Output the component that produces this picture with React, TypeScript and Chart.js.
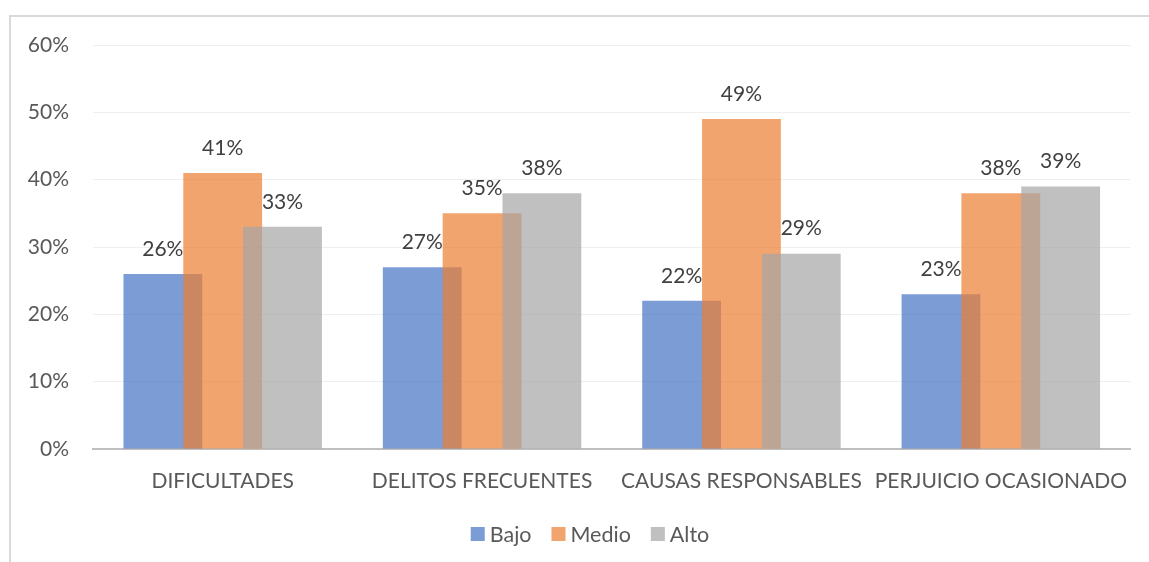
import React, { useEffect, useRef } from "react";
import { Chart, registerables } from "chart.js";

Chart.register(...registerables);

const categories = ["DIFICULTADES", "DELITOS FRECUENTES", "CAUSAS RESPONSABLES", "PERJUICIO OCASIONADO"];
const seriesNames = ["Bajo", "Medio", "Alto"];
const bajo = [26, 27, 22, 23];
const medio = [41, 35, 49, 38];
const alto = [33, 38, 29, 39];
const seriesColors = ["rgba(68,114,196,0.7)", "rgba(237,125,49,0.7)", "rgba(165,165,165,0.7)"];

const FONT = "Lato, 'Open Sans', sans-serif";
const LEGEND_CENTER_X = 590;
const LEGEND_CENTER_Y = 534;

const framePlugin = {
  id: "frame",
  beforeDraw(chart: any) {
    const ctx = chart.ctx;
    ctx.save();
    ctx.fillStyle = "#ffffff";
    ctx.fillRect(0, 0, chart.width, chart.height);
    ctx.fillStyle = "#D9D9D9";
    ctx.fillRect(9, 15, chart.width - 9, 2);
    ctx.fillRect(9, 15, 2, chart.height - 15);
    ctx.restore();
  },
};

const orderPlugin = {
  id: "drawOrder",
  beforeDatasetsDraw(chart: any) {
    const metas = chart.getSortedVisibleDatasetMetas();
    for (const m of metas) m.controller.draw();
    return false;
  },
};

const labelPlugin = {
  id: "valueLabels",
  afterDraw(chart: any) {
    const ctx = chart.ctx;
    ctx.save();
    ctx.font = `21px ${FONT}`;
    ctx.fillStyle = "#404040";
    ctx.textAlign = "center";
    ctx.textBaseline = "middle";
    chart.data.datasets.forEach((ds: any, di: number) => {
      const meta = chart.getDatasetMeta(di);
      meta.data.forEach((el: any, i: number) => {
        ctx.fillText(`${ds.data[i]}%`, el.x, el.y - 25);
      });
    });
    ctx.restore();
  },
};

const legendPlugin = {
  id: "customLegend",
  afterDraw(chart: any) {
    const ctx = chart.ctx;
    ctx.save();
    ctx.font = `21.5px ${FONT}`;
    ctx.textBaseline = "middle";
    ctx.textAlign = "left";
    const box = 14;
    const gap = 5;
    const itemGap = 20;
    const items = chart.data.datasets.map((ds: any) => ({
      label: ds.label,
      color: ds.backgroundColor,
      w: box + gap + ctx.measureText(ds.label).width,
    }));
    const total = items.reduce((s: number, it: any) => s + it.w, 0) + itemGap * (items.length - 1);
    let x = LEGEND_CENTER_X - total / 2;
    for (const it of items) {
      ctx.fillStyle = it.color;
      ctx.fillRect(x, LEGEND_CENTER_Y - box / 2, box, box);
      ctx.fillStyle = "#595959";
      ctx.fillText(it.label, x + box + gap, LEGEND_CENTER_Y + 1);
      x += it.w + itemGap;
    }
    ctx.restore();
  },
};

export default function App() {
  const ref = useRef<HTMLCanvasElement>(null);
  useEffect(() => {
    if (!ref.current) return;
    const chart = new Chart(ref.current, {
      type: "bar",
      data: {
        labels: categories,
        datasets: [bajo, medio, alto].map((d, i) => ({
          label: seriesNames[i],
          data: d,
          backgroundColor: seriesColors[i],
          borderWidth: 0,
          categoryPercentage: 0.692,
          barPercentage: 1.317,
        })),
      },
      options: {
        animation: false,
        responsive: false,
        layout: { padding: { left: 0, right: 16, top: 45, bottom: 0 } },
        plugins: {
          tooltip: { enabled: false },
          legend: { display: false },
        },
        scales: {
          x: {
            grid: { display: false, drawTicks: false },
            border: { display: true, color: "#BFBFBF", width: 2 },
            ticks: {
              color: "#595959",
              font: { family: FONT, size: 21 },
              padding: 20,
              maxRotation: 0,
              autoSkip: false,
            },
            afterFit(scale: any) {
              scale.height = 113;
            },
          },
          y: {
            min: 0,
            max: 60,
            grid: { color: "#EFEFEF", lineWidth: 1, drawTicks: false },
            border: { display: false },
            ticks: {
              stepSize: 10,
              padding: 24,
              color: "#595959",
              font: { family: FONT, size: 21 },
              callback: (v: any) => `${v}%`,
            },
            afterFit(scale: any) {
              scale.width = 93;
            },
          },
        },
      },
      plugins: [framePlugin, orderPlugin, labelPlugin, legendPlugin],
    });
    return () => chart.destroy();
  }, []);
  return (
    <div style={{ position: "fixed", left: 0, top: 0, width: 1149, height: 562 }}>
      <canvas ref={ref} width={1149} height={562} />
    </div>
  );
}
